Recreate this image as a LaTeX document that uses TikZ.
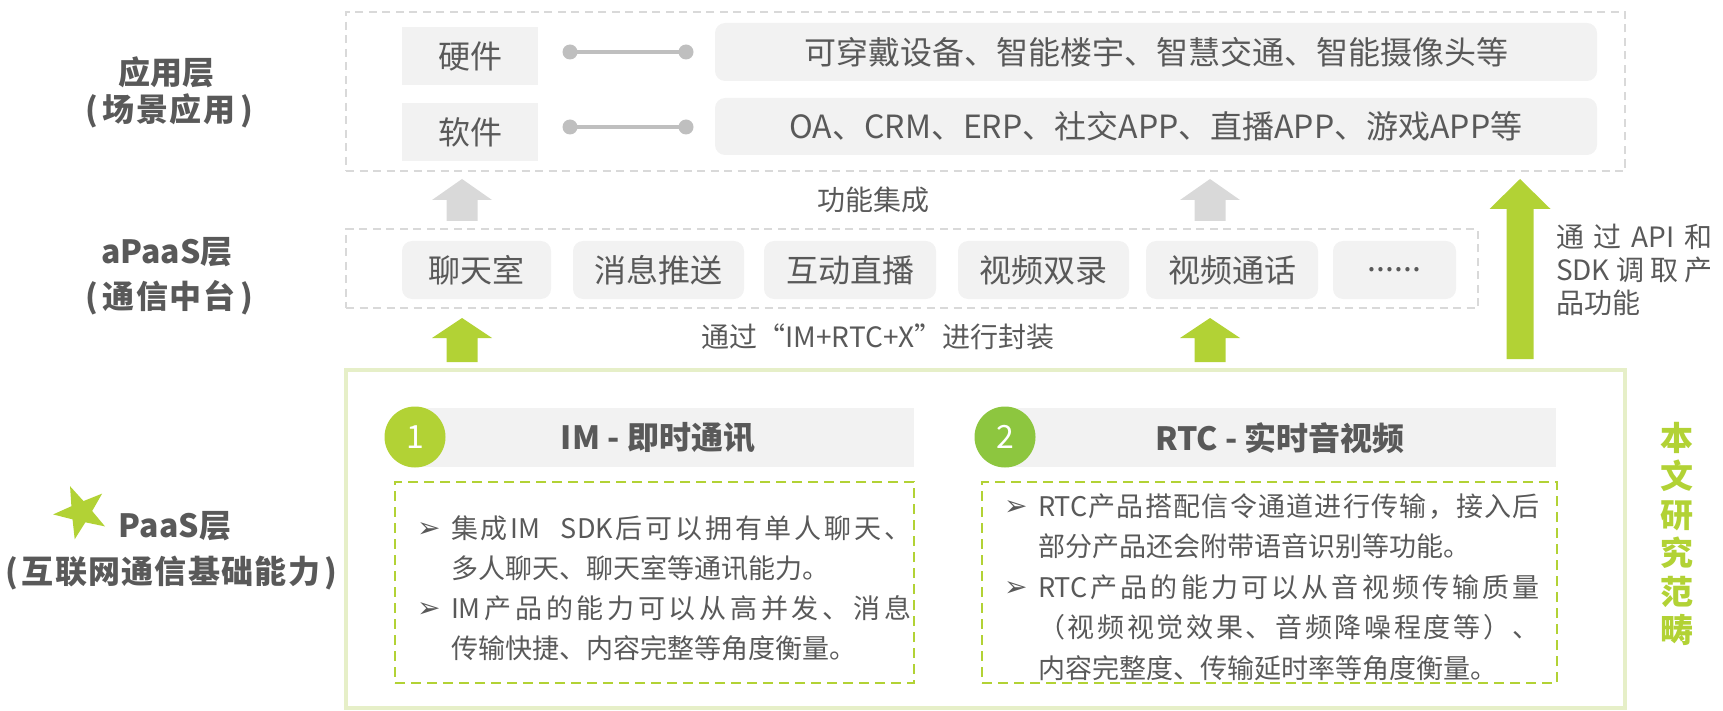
\documentclass[tikz,border=0pt]{standalone}
\usepackage{fontspec}
\setmainfont{Noto Sans CJK SC}
\newfontfamily\symfont{DejaVu Sans}
\usetikzlibrary{fit,shapes.geometric}
\definecolor{txt}{HTML}{595959}
\definecolor{boxgray}{HTML}{F2F2F2}
\definecolor{dashgray}{HTML}{D9D9D9}
\definecolor{arrgray}{HTML}{D9D9D9}
\definecolor{dotgray}{HTML}{BFBFBF}
\definecolor{gA}{HTML}{B2D235}
\definecolor{gB}{HTML}{8DC63F}
\definecolor{gBorder}{HTML}{E6EFC8}
\newcommand\gapfill{\hspace{0pt plus 1fil}}
\newcommand\gapbig{\hspace{0pt plus 3fil}}
\newcommand\blkarrow[7]{\fill[#1] ({#2-#7},#5) -- ({#2-#7},#4) -- ({#2-#6},#4) -- (#2,#3) -- ({#2+#6},#4) -- ({#2+#7},#4) -- ({#2+#7},#5) -- cycle;}
\newcommand\bulmark{\makebox[17pt][l]{\raisebox{0.5pt}{\symfont\fontsize{14}{10}\selectfont ➢}}}
\newcommand\bulind{\hspace*{17pt}}
\def\sprA#1{#1\sprB}
\def\sprB#1{\ifx\relax#1\else\hskip0pt plus 1fil #1\expandafter\sprB\fi}
\newcommand\jline[2]{\makebox[#1][s]{\sprA#2\relax}}
\newcommand\plabel[2]{\makebox[#1][s]{(\gapbig\sprA#2\relax\gapbig)}}
\begin{document}
\begin{tikzpicture}[x=0.5pt,y=-0.5pt,
  every node/.style={text=txt, inner sep=0pt, outer sep=0pt},
  lbl/.style={font=\fontsize{16}{19}\selectfont\bfseries},
  item/.style={fill=boxgray, font=\fontsize{16}{19}\selectfont, minimum height=29pt},
  ritem/.style={item, rounded corners=5pt},
  layer/.style={draw=dashgray, line width=1pt, dash pattern=on 4pt off 2.75pt, fit={#1}, inner sep=0pt},
  gdash/.style={draw=gA, line width=1.1pt, dash pattern=on 5pt off 3pt, fit={#1}, inner sep=0pt},
  small/.style={font=\fontsize{14}{16.5}\selectfont},
  body/.style={font=\fontsize{13.5}{20}\selectfont, align=left, anchor=west},
  conn/.style={draw=dotgray, line width=2pt},
  num/.style={circle, minimum size=30.5pt, text=white, font=\fontsize{16}{19}\selectfont},
  titlebar/.style={fill=boxgray, fit={#1}, inner sep=0pt},
]
\useasboundingbox (0,0) rectangle (1723,711);

% ---------- application layer ----------
\node[layer={(346,12) (1625,171)}] (app) {};
\node[item, minimum width=68pt] (hw) at (470,56) {硬件};
\node[item, minimum width=68pt] (sw) at (470,132) {软件};
\node[ritem, minimum width=441pt] (hwx) at (1156,52) {可穿戴设备、智能楼宇、智慧交通、智能摄像头等};
\node[ritem, minimum width=441pt, minimum height=28.5pt] (swx) at (1156,126.5) {OA、CRM、ERP、社交APP、直播APP、游戏APP等};
\coordinate (d1a) at (570,52);
\coordinate (d1b) at (686,52);
\coordinate (d2a) at (570,127);
\coordinate (d2b) at (686,127);
\draw[conn] (d1a) -- (d1b);
\draw[conn] (d2a) -- (d2b);
\foreach \p in {d1a,d1b,d2a,d2b} \fill[dotgray] (\p) circle (3.75pt);

% ---------- arrows ----------
\blkarrow{arrgray}{462}{179}{200}{221}{30}{15.5}
\blkarrow{arrgray}{1210}{179}{200}{221}{30}{15.5}
\node[small] (integ) at (873,200) {功能集成};

% ---------- aPaaS layer ----------
\node[layer={(346,229) (1478,308)}] (apaas) {};
\node[ritem, minimum width=74.5pt] (a1) at (476.5,270) {聊天室};
\node[ritem, minimum width=85.5pt] (a2) at (658.5,270) {消息推送};
\node[ritem, minimum width=86pt] (a3) at (850,270) {互动直播};
\node[ritem, minimum width=85.5pt] (a4) at (1043.5,270) {视频双录};
\node[ritem, minimum width=86pt] (a5) at (1232,270) {视频通话};
\node[ritem, minimum width=61.5pt] (a6) at (1394.5,270) {......};

\blkarrow{gA}{462}{318}{338}{362}{30}{15.5}
\blkarrow{gA}{1210}{318}{338}{362}{30}{15.5}
\node[small] (pack) at (878,337) {通过“IM+RTC+X”进行封装};

\blkarrow{gA}{1520}{179}{209}{359}{30.5}{13.5}
\node[small, align=left, anchor=west] (api) at (1556,270) {\makebox[78pt][s]{通 过 API 和}\\\makebox[78pt][s]{SDK 调 取 产}\\品功能};

% ---------- PaaS layer ----------
\node[draw=gBorder, line width=2pt, fit={(346,370) (1625,708)}, inner sep=0pt] (paas) {};

\node[titlebar={(415,408) (914,467)}] (bar1) {};
\node[titlebar={(1005,408) (1556,467)}] (bar2) {};
\node[num, fill=gA] (n1) at (415,437) {1};
\node[num, fill=gB] (n2) at (1005,437) {2};
\node[lbl] (im) at (658,438) {IM - 即时通讯};
\node[lbl] (rtc) at (1280,438) {RTC - 实时音视频};

\node[gdash={(395,482) (914,683)}] (box1) {};
\node[gdash={(982,482) (1557,683)}] (box2) {};

\node[body] (t1) at (417,588) {\bulmark\jline{230pt}{集成{IM}~~{SDK}后可以拥有单人聊天、}\\\bulind 多人聊天、聊天室等通讯能力。\\\bulmark\jline{230pt}{{IM}产品的能力可以从高并发、消息}\\\bulind 传输快捷、内容完整等角度衡量。};
\node[body, font=\fontsize{13.5}{20.25}\selectfont] (t2) at (1004,587) {\bulmark\jline{251pt}{{RTC}产品搭配信令通道进行传输，接入后}\\\bulind 部分产品还会附带语音识别等功能。\\\bulmark\jline{251pt}{{RTC}产品的能力可以从音视频传输质量}\\\bulind\jline{251pt}{（视频视觉效果、音频降噪程度等）、}\\\bulind 内容完整度、传输延时率等角度衡量。};

\node[font=\fontsize{16.5}{19.2}\selectfont\bfseries, text=gA, align=center] (scope) at (1677,534) {本\\文\\研\\究\\范\\畴};

% ---------- left labels ----------
\node[lbl] (l1) at (166.5,72) {应用层};
\node[lbl] (l1b) at (169,111) {\plabel{84pt}{场景应用}};
\node[lbl] (l2) at (167,252) {aPaaS层};
\node[lbl] (l2b) at (169,298) {\plabel{84pt}{通信中台}};
\node[star, star points=5, star point ratio=2.5, fill=gA, minimum size=28pt, rotate=23] (star) at (81,512) {};
\node[lbl] (l3) at (175,526) {PaaS层};
\node[lbl] (l3b) at (171,573) {\plabel{166pt}{互联网通信基础能力}};
\end{tikzpicture}
\end{document}
